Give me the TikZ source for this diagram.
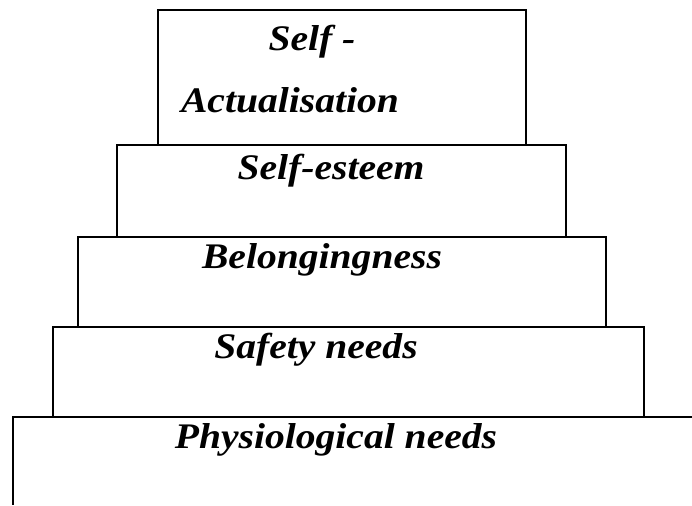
\documentclass[tikz,border=0pt]{standalone}
\usepackage{fontspec}
\setmainfont{Liberation Serif}[FakeStretch=1.1]
\usepackage{tikz}
\tikzset{>=latex}
\tikzset{tier/.style={line width=1pt},
  tierlabel/.style={font=\fontsize{18}{22}\selectfont\bfseries\itshape, inner sep=0pt, anchor=base}}

\begin{document}
\begin{tikzpicture}[x=0.5pt, y=-0.5pt]
\useasboundingbox (0,0) rectangle (692,505);
% the five tiers, widest at the bottom
\draw[tier] (158,10) rectangle (526,145);
\draw[tier] (117,145) rectangle (566,237);
\draw[tier] (78,237) rectangle (606,327);
\draw[tier] (53,327) rectangle (644,417);
\draw[tier] (692,417) -- (13,417) -- (13,505);
% labels
\node[tierlabel] (selfA) at (312,50) {Self -};
\node[tierlabel] (actual) at (290,112) {Actualisation};
\node[tierlabel] (esteem) at (331,179) {Self-esteem};
\node[tierlabel] (belong) at (322,268) {Belongingness};
\node[tierlabel] (safety) at (316,358) {Safety needs};
\node[tierlabel] (physio) at (336,448) {Physiological needs};
\end{tikzpicture}
\end{document}
